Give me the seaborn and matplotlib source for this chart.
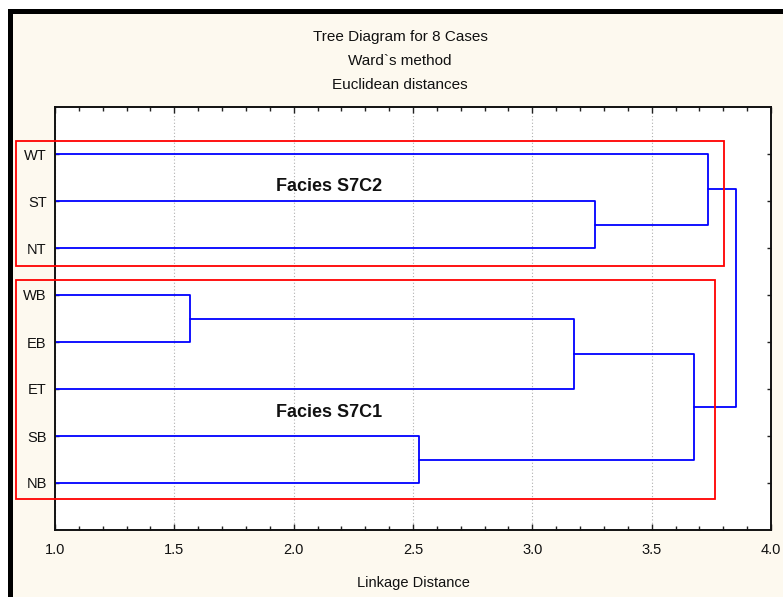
import numpy as np
import pandas as pd
import matplotlib
matplotlib.use("Agg")
import matplotlib.pyplot as plt
from matplotlib.patches import Rectangle
from matplotlib.ticker import MultipleLocator, FormatStrFormatter
import seaborn as sns

# leaves, top to bottom
leaves = ["WT", "ST", "NT", "WB", "EB", "ET", "SB", "NB"]

# merges: (child a, child b, linkage distance) -> new node c0, c1, ...
link_a = ["WB", "SB", "c0", "ST", "c2", "WT", "c5"]
link_b = ["EB", "NB", "ET", "NT", "c1", "c3", "c4"]
link_h = [1.566, 2.525, 3.174, 3.262, 3.677, 3.736, 3.852]

# facies groups (leaf ranges) and labels
group_names = ["Facies S7C2", "Facies S7C1"]
group_first = ["WT", "WB"]
group_last = ["NT", "NB"]

sns.set_theme(style="ticks")
plt.rcParams["font.family"] = ["Liberation Sans", "DejaVu Sans"]

fig = plt.figure(figsize=(7.83, 5.97), dpi=100, facecolor="white")
W, H = 783, 597
# black frame + cream background
fig.patches.append(Rectangle((8 / W, 0), 1, 1 - 9 / H, transform=fig.transFigure,
                             facecolor="black", edgecolor="none", zorder=-10))
fig.patches.append(Rectangle((13.3 / W, 0), 1, 1 - 14 / H, transform=fig.transFigure,
                             facecolor="#fdf9ef", edgecolor="none", zorder=-9))

ax = fig.add_axes([55 / W, 1 - 530 / H, (771 - 55) / W, (530 - 107) / H])
ax.set_facecolor("white")

# build dendrogram segments
pos = {name: (0.0, float(i)) for i, name in enumerate(leaves)}
rows = []
for k, (a, b, h) in enumerate(zip(link_a, link_b, link_h)):
    xa, ya = pos[a]
    xb, yb = pos[b]
    for x, y in [(xa, ya), (h, ya), (h, yb), (xb, yb)]:
        rows.append({"seg": k, "x": x, "y": y})
    pos["c%d" % k] = (h, (ya + yb) / 2)
segs = pd.DataFrame(rows)

sns.lineplot(data=segs, x="x", y="y", units="seg", estimator=None, sort=False,
             color="#0000ff", lw=1.3, ax=ax, legend=False)

ax.set_xlim(1.0, 4.0)
ax.set_ylim(len(leaves), -1)
ax.set_yticks(range(len(leaves)))
ax.set_yticklabels(leaves)
ax.xaxis.set_major_locator(MultipleLocator(0.5))
ax.xaxis.set_minor_locator(MultipleLocator(0.1))
ax.xaxis.set_major_formatter(FormatStrFormatter("%.1f"))
ax.tick_params(axis="both", which="both", direction="in", top=True, right=True,
               width=1, color="#222222", labelsize=10.5, labelcolor="#111111")
ax.tick_params(axis="x", which="major", length=4, pad=9)
ax.tick_params(axis="x", which="minor", length=3)
ax.tick_params(axis="y", which="major", length=3, pad=6)
ax.grid(axis="x", which="major", color="#b0b0b0", ls=(0, (1, 2)), lw=0.8)
for sp in ax.spines.values():
    sp.set_color("#111111")
    sp.set_linewidth(1.4)

ax.set_xlabel("Linkage Distance", fontsize=10.5, labelpad=14, color="#111111")
ax.set_ylabel("")

fig.text(0.511, 1 - 37 / H, "Tree Diagram for 8 Cases", ha="center", va="center", fontsize=11, color="#111111")
fig.text(0.511, 1 - 61 / H, "Ward`s method", ha="center", va="center", fontsize=11, color="#111111")
fig.text(0.511, 1 - 85 / H, "Euclidean distances", ha="center", va="center", fontsize=11, color="#111111")

# red boxes around facies groups
box_left = 0.835
box_right = [3.803, 3.764]
box_pad_top = [0.277, 0.32]
box_pad_bot = [0.383, 0.33]
label_xy = [(2.15, 0.7), (2.15, 5.5)]
for i, name in enumerate(group_names):
    y0 = leaves.index(group_first[i]) - box_pad_top[i]
    y1 = leaves.index(group_last[i]) + box_pad_bot[i]
    ax.add_patch(Rectangle((box_left, y0), box_right[i] - box_left, y1 - y0,
                           fill=False, edgecolor="#ff0000", lw=1.3, clip_on=False, zorder=5))
    ax.text(label_xy[i][0], label_xy[i][1], name, ha="center", va="center",
            fontsize=13, fontweight="bold", color="#111111")

fig.savefig("out.png", dpi=100)
